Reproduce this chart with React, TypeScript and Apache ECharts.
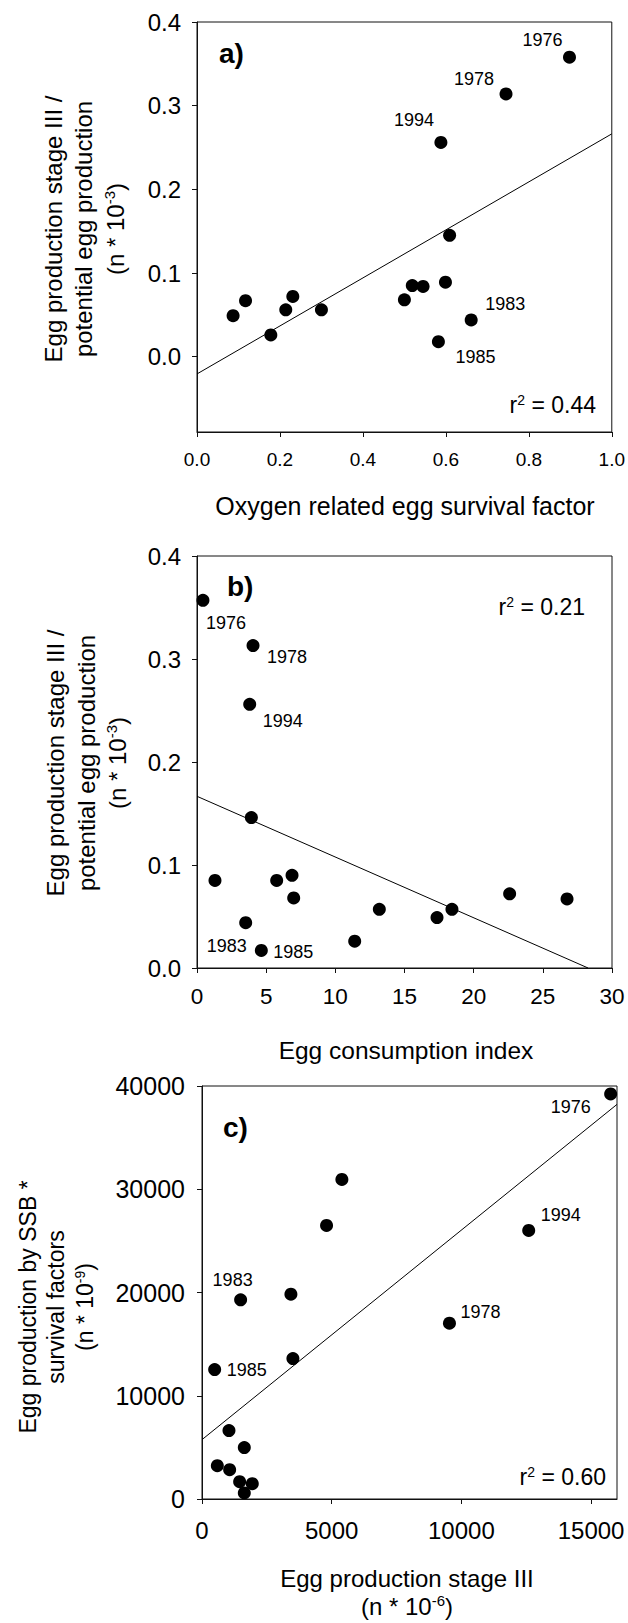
import React, { useEffect, useRef } from "react";
import * as echarts from "echarts";

const FONT = '"Liberation Sans", Arial, Helvetica, sans-serif';
const INK = "#000";

// ---------- Panel a ----------
const aX = [0.087, 0.117, 0.178, 0.214, 0.231, 0.3, 0.5, 0.519, 0.545, 0.599, 0.609, 0.588, 0.582, 0.661, 0.745, 0.898];
const aY = [0.049, 0.067, 0.026, 0.056, 0.072, 0.056, 0.068, 0.085, 0.084, 0.089, 0.145, 0.256, 0.018, 0.044, 0.314, 0.358];
const aYears = ["", "", "", "", "", "", "", "", "", "", "", "1994", "1985", "1983", "1978", "1976"];
const aFit = [[0, -0.0206], [1, 0.2663]];
const aXTicks = [0, 0.2, 0.4, 0.6, 0.8, 1.0];
const aYTicks = [0, 0.1, 0.2, 0.3, 0.4];

// ---------- Panel b ----------
const bX = [0.43, 1.3, 3.52, 4.05, 3.81, 3.93, 4.65, 5.76, 6.87, 6.99, 11.4, 13.18, 17.35, 18.43, 22.6, 26.75];
const bY = [0.357, 0.085, 0.044, 0.313, 0.256, 0.146, 0.017, 0.085, 0.09, 0.068, 0.026, 0.057, 0.049, 0.057, 0.072, 0.067];
const bYears = ["1976", "", "1983", "1978", "1994", "", "1985", "", "", "", "", "", "", "", "", ""];
const bFit = [[0, 0.1667], [28.27, 0]];
const bXTicks = [0, 5, 10, 15, 20, 25, 30];
const bYTicks = [0, 0.1, 0.2, 0.3, 0.4];

// ---------- Panel c ----------
const cX = [15755, 5393, 4802, 12596, 3428, 1489, 9540, 3505, 488, 1040, 1631, 591, 1066, 1451, 1939, 1631];
const cY = [39226, 30953, 26494, 26010, 19838, 19289, 17027, 13602, 12536, 6624, 4976, 3231, 2843, 1680, 1486, 582];
const cYears = ["1976", "", "", "1994", "", "1983", "1978", "", "1985", "", "", "", "", "", "", ""];
const cFit = [[0, 5750], [16000, 38220]];
const cXTicks = [0, 5000, 10000, 15000];
const cYTicks = [0, 10000, 20000, 30000, 40000];

// label offsets (pixels) per year label, per panel
const yearOffsets: Record<string, Record<string, number[]>> = {
  a: { "1976": [-27, -17], "1978": [-32, -15], "1994": [-27, -22], "1983": [34, -16], "1985": [37, 15] },
  b: { "1976": [23, 23], "1978": [34, 11], "1994": [33, 17], "1983": [-19, 23], "1985": [32, 2] },
  c: { "1976": [-40, 13], "1994": [32, -15], "1983": [-8, -20], "1978": [31, -11], "1985": [32, 0] },
};

function points(xs: number[], ys: number[], years: string[], panel: string) {
  return xs.map((x, i) => {
    const item: any = { value: [x, ys[i]] };
    if (years[i]) {
      const off = yearOffsets[panel][years[i]] || [0, 0];
      item.label = {
        show: true,
        formatter: years[i],
        position: "inside",
        offset: off,
        fontSize: 18,
        fontFamily: FONT,
        color: INK,
        opacity: 1,
        align: "center",
        verticalAlign: "middle",
      };
    }
    return item;
  });
}

function axis(gridIndex: number, min: number, max: number, ticks: number[], fmt: (v: number) => string, fontSize: number, margin: number) {
  return {
    type: "value",
    gridIndex,
    min,
    max,
    axisLine: { show: true, onZero: false, lineStyle: { color: "#111", width: 1 } },
    axisTick: { show: true, length: 5, customValues: ticks, lineStyle: { color: "#111", width: 1 } },
    axisLabel: { show: true, customValues: ticks, formatter: fmt, fontSize, fontFamily: FONT, color: INK, margin },
    splitLine: { show: false },
  };
}

function txt(x: number, y: number, text: string, fontSize: number, opts: any = {}) {
  const align = opts.align || "center";
  return {
    type: "text",
    x,
    y,
    rotation: opts.rotation || 0,
    silent: true,
    style: {
      text,
      fontSize,
      fontFamily: FONT,
      fontWeight: opts.bold ? "bold" : "normal",
      fill: INK,
      align,
      textAlign: align,
      verticalAlign: "middle",
      textVerticalAlign: "middle",
      rich: opts.rich,
    },
  };
}

function supRich(size: number) {
  return {
    m: { fontSize: size, lineHeight: size + 2, fontFamily: FONT, fill: INK, color: INK },
    s: { fontSize: Math.round(size * 0.62), fontFamily: FONT, fill: INK, color: INK, verticalAlign: "top" },
  };
}

const f1 = (v: number) => v.toFixed(1);
const f0 = (v: number) => String(Math.round(v));

export default function App() {
  const ref = useRef<HTMLDivElement>(null);
  useEffect(() => {
    if (!ref.current) return;
    const chart = echarts.init(ref.current, undefined, { renderer: "svg" });
    const R = Math.PI / 2;
    const grids = [
      { left: 197, top: 22, width: 415, height: 410 },
      { left: 197, top: 556, width: 415, height: 412 },
      { left: 202, top: 1086, width: 415, height: 413 },
    ].map((g) => ({ ...g, show: true, borderColor: "#111", borderWidth: 1, backgroundColor: "transparent" }));

    const scatterBase = {
      type: "scatter",
      symbol: "circle",
      symbolSize: 13,
      itemStyle: { color: "#000", opacity: 1 },
      clip: false,
      silent: true,
    };
    const lineBase = { type: "line", showSymbol: false, symbol: "none", lineStyle: { color: "#000", width: 1 }, silent: true, clip: true };

    const option: any = {
      animation: false,
      backgroundColor: "#fff",
      grid: grids,
      xAxis: [
        axis(0, 0, 1, aXTicks, f1, 19, 18),
        axis(1, 0, 30, bXTicks, f0, 22.5, 17),
        axis(2, 0, 16000, cXTicks, f0, 24, 19),
      ],
      yAxis: [
        axis(0, -0.09, 0.4, aYTicks, f1, 24, 16),
        axis(1, 0, 0.4, bYTicks, f1, 24, 16),
        axis(2, 0, 40000, cYTicks, f0, 25, 17),
      ],
      series: [
        { ...lineBase, xAxisIndex: 0, yAxisIndex: 0, data: aFit },
        { ...lineBase, xAxisIndex: 1, yAxisIndex: 1, data: bFit },
        { ...lineBase, xAxisIndex: 2, yAxisIndex: 2, data: cFit },
        { ...scatterBase, xAxisIndex: 0, yAxisIndex: 0, data: points(aX, aY, aYears, "a") },
        { ...scatterBase, xAxisIndex: 1, yAxisIndex: 1, data: points(bX, bY, bYears, "b") },
        { ...scatterBase, xAxisIndex: 2, yAxisIndex: 2, data: points(cX, cY, cYears, "c") },
      ],
      graphic: [
        // panel letters
        txt(219, 53, "a)", 28, { bold: true, align: "left" }),
        txt(227, 586, "b)", 28, { bold: true, align: "left" }),
        txt(223, 1127, "c)", 28, { bold: true, align: "left" }),
        // r-squared
        txt(596, 405, "{m|r}{s|2}{m| = 0.44}", 23, { align: "right", rich: supRich(23) }),
        txt(585, 607, "{m|r}{s|2}{m| = 0.21}", 23, { align: "right", rich: supRich(23) }),
        txt(606, 1477, "{m|r}{s|2}{m| = 0.60}", 23, { align: "right", rich: supRich(23) }),
        // x titles
        txt(405, 506, "Oxygen related egg survival factor", 25),
        txt(406, 1050, "Egg consumption index", 24.5),
        txt(407, 1578, "Egg production stage III", 24),
        txt(407, 1606, "{m|(n * 10}{s|-6}{m|)}", 24, { rich: supRich(24) }),
        // y titles a
        txt(53, 229, "Egg production stage III /", 24, { rotation: R }),
        txt(83, 229, "potential egg production", 24, { rotation: R }),
        txt(115, 229, "{m|(n * 10}{s|-3}{m|)}", 24, { rotation: R, rich: supRich(24) }),
        // y titles b
        txt(55, 763, "Egg production stage III /", 24, { rotation: R }),
        txt(86, 763, "potential egg production", 24, { rotation: R }),
        txt(117, 763, "{m|(n * 10}{s|-3}{m|)}", 24, { rotation: R, rich: supRich(24) }),
        // y titles c
        txt(28, 1307, "Egg production by SSB *", 23, { rotation: R }),
        txt(56, 1307, "survival factors", 23, { rotation: R }),
        txt(85, 1307, "{m|(n * 10}{s|-9}{m|)}", 23, { rotation: R, rich: supRich(23) }),
      ],
    };
    chart.setOption(option);
    return () => chart.dispose();
  }, []);
  return <div ref={ref} style={{ position: "absolute", left: 0, top: 0, width: 628, height: 1623 }} />;
}
